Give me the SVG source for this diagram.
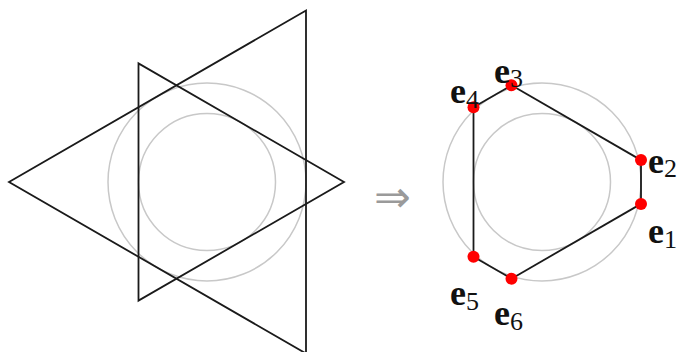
<svg xmlns="http://www.w3.org/2000/svg" width="680" height="352" viewBox="0 0 680 352">
<style>
.circ{fill:none;stroke:#c8c8c8;stroke-width:1.5}
.tri{fill:none;stroke:#1a1a1a;stroke-width:1.8;stroke-linejoin:miter}
.edge{fill:none;stroke:#1a1a1a;stroke-width:1.8}
.dot{fill:#ff0000}
.lbl{font-family:"Liberation Serif","Times New Roman",serif;font-size:36px;fill:#111}
.e{font-weight:bold}
.sub{font-size:26px;font-weight:normal}
.arrow{font-family:"DejaVu Sans",sans-serif;font-size:44px;fill:#9a9a9a}
</style>
<rect width="680" height="352" fill="#fff"/>
<g id="left-figure">
  <circle class="circ" cx="207" cy="182" r="99"/>
  <circle class="circ" cx="207" cy="182" r="68.5"/>
  <polygon class="tri" points="9,182 306,10.5 306,353.5"/>
  <polygon class="tri" points="344,182 138.5,63.4 138.5,300.6"/>
</g>
<g id="implies">
  <text class="arrow" x="374" y="212">⇒</text>
</g>
<g id="right-circles">
  <circle class="circ" cx="542" cy="182" r="99"/>
  <circle class="circ" cx="542" cy="182" r="68.5"/>
</g>
<g id="connectors">
  <line class="edge" x1="473.5" y1="107.2" x2="511.5" y2="85.3"/>
  <line class="edge" x1="511.5" y1="85.3" x2="641" y2="160.1"/>
  <line class="edge" x1="641" y1="160.1" x2="641" y2="203.9"/>
  <line class="edge" x1="641" y1="203.9" x2="511.5" y2="278.7"/>
  <line class="edge" x1="511.5" y1="278.7" x2="473.5" y2="256.8"/>
  <line class="edge" x1="473.5" y1="256.8" x2="473.5" y2="107.2"/>
</g>
<g id="e1">
  <circle class="dot" cx="641" cy="203.9" r="6"/>
  <text class="lbl" x="648" y="243"><tspan class="e">e</tspan><tspan class="sub" dy="5">1</tspan></text>
</g>
<g id="e2">
  <circle class="dot" cx="641" cy="160.1" r="6"/>
  <text class="lbl" x="648" y="173"><tspan class="e">e</tspan><tspan class="sub" dy="4">2</tspan></text>
</g>
<g id="e3">
  <circle class="dot" cx="511.5" cy="85.3" r="6"/>
  <text class="lbl" x="494" y="83"><tspan class="e">e</tspan><tspan class="sub" dy="4">3</tspan></text>
</g>
<g id="e4">
  <circle class="dot" cx="473.5" cy="107.2" r="6"/>
  <text class="lbl" x="450" y="103"><tspan class="e">e</tspan><tspan class="sub" dy="5">4</tspan></text>
</g>
<g id="e5">
  <circle class="dot" cx="473.5" cy="256.8" r="6"/>
  <text class="lbl" x="450" y="305"><tspan class="e">e</tspan><tspan class="sub" dy="5">5</tspan></text>
</g>
<g id="e6">
  <circle class="dot" cx="511.5" cy="278.7" r="6"/>
  <text class="lbl" x="494" y="325"><tspan class="e">e</tspan><tspan class="sub" dy="5">6</tspan></text>
</g>
</svg>
